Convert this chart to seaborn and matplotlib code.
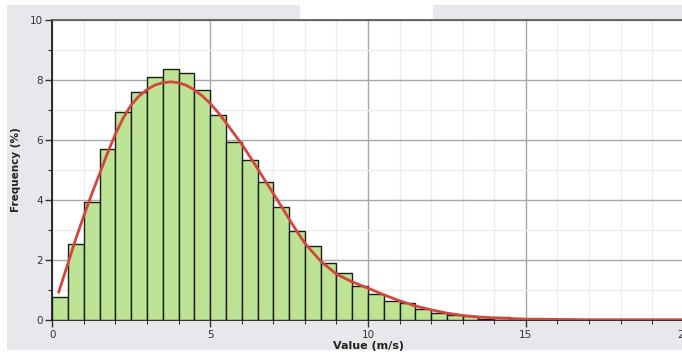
import numpy as np
import pandas as pd
import matplotlib
matplotlib.use("Agg")
import matplotlib.pyplot as plt
import seaborn as sns
from matplotlib.ticker import MultipleLocator

# ---- data ----
bin_edges = [0.0, 0.5, 1.0, 1.5, 2.0, 2.5, 3.0, 3.5, 4.0, 4.5, 5.0, 5.5, 6.0, 6.5, 7.0,
             7.5, 8.0, 8.5, 9.0, 9.5, 10.0, 10.5, 11.0, 11.5, 12.0, 12.5, 13.0, 13.5,
             14.0, 14.5]
bin_centers = [0.25, 0.75, 1.25, 1.75, 2.25, 2.75, 3.25, 3.75, 4.25, 4.75, 5.25, 5.75,
               6.25, 6.75, 7.25, 7.75, 8.25, 8.75, 9.25, 9.75, 10.25, 10.75, 11.25,
               11.75, 12.25, 12.75, 13.25, 13.75, 14.25]
freq_pct = [0.77, 2.52, 3.92, 5.70, 6.92, 7.60, 8.11, 8.38, 8.25, 7.66, 6.82, 5.94,
            5.35, 4.59, 3.77, 2.98, 2.47, 1.89, 1.56, 1.14, 0.87, 0.63, 0.56, 0.36,
            0.22, 0.18, 0.14, 0.04, 0.09]

fit_x = [0.2, 0.5, 0.75, 1.0, 1.25, 1.5, 1.75, 2.0, 2.25, 2.5, 2.75, 3.0, 3.25, 3.5,
         3.75, 4.0, 4.25, 4.5, 4.75, 5.0, 5.25, 5.5, 5.75, 6.0, 6.25, 6.5, 6.75, 7.0,
         7.25, 7.5, 7.75, 8.0, 8.5, 9.0, 9.5, 10.0, 10.5, 11.0, 11.5, 12.0, 12.5, 13.0,
         13.5, 14.0, 15.0, 16.0, 17.0, 18.0, 19.0, 20.0]
fit_y = [0.92, 1.90, 2.72, 3.48, 4.20, 4.88, 5.57, 6.20, 6.74, 7.17, 7.47, 7.68, 7.83,
         7.91, 7.94, 7.91, 7.82, 7.67, 7.47, 7.22, 6.92, 6.58, 6.22, 5.86, 5.46, 5.05,
         4.63, 4.22, 3.80, 3.37, 2.95, 2.56, 1.96, 1.53, 1.27, 1.06, 0.84, 0.64, 0.47,
         0.34, 0.23, 0.15, 0.10, 0.07, 0.03, 0.02, 0.01, 0.01, 0.01, 0.01]

x_ticks = [0, 5, 10, 15, 20]
y_ticks = [0, 2, 4, 6, 8, 10]

hist_df = pd.DataFrame({"value": bin_centers, "freq": freq_pct})
fit_df = pd.DataFrame({"value": fit_x, "freq": fit_y})

sns.set_style("white")
plt.rcParams["font.family"] = ["DejaVu Sans"]

W, H = 682, 352
fig = plt.figure(figsize=(W / 100, H / 100), dpi=100)
fig.patch.set_facecolor("white")

# gray frame background
bg_color = "#e9e7ec"
fig.patches.append(matplotlib.patches.Rectangle((7 / W, 1 - 350 / H), (W - 7) / W, (350 - 5) / H,
                                                transform=fig.transFigure, facecolor=bg_color,
                                                edgecolor="none", zorder=-10))
fig.patches.append(matplotlib.patches.Rectangle((300 / W, 1 - 19 / H), 133 / W, 14 / H,
                                                transform=fig.transFigure, facecolor="white",
                                                edgecolor="none", zorder=-9))

x0, x1 = 52.3, 683.7
y0, y1 = 320, 20
ax = fig.add_axes([x0 / W, 1 - y0 / H, (x1 - x0) / W, (y0 - y1) / H])
ax.set_zorder(1)
ax.set_facecolor("white")

sns.histplot(data=hist_df, x="value", weights="freq", bins=bin_edges, stat="count",
             color="#bde394", alpha=1.0, edgecolor="#1c1c1c", linewidth=1.0, ax=ax, zorder=3)
sns.lineplot(data=fit_df, x="value", y="freq", color="#d4453c", linewidth=2.0, ax=ax,
             zorder=4)

ax.set_xlim(0, 20)
ax.set_ylim(0, 10)
ax.set_xticks(x_ticks)
ax.set_yticks(y_ticks)
ax.set_xticklabels([str(t) for t in x_ticks])
ax.set_yticklabels([str(t) for t in y_ticks])
ax.xaxis.set_minor_locator(MultipleLocator(1))
ax.yaxis.set_minor_locator(MultipleLocator(1))

ax.grid(which="major", color="#a8a8a8", linewidth=1.0, zorder=1)
ax.grid(which="minor", color="#ededed", linewidth=1.0, zorder=0.5)
ax.set_axisbelow(True)

ax.tick_params(axis="both", which="major", direction="out", length=5, width=1,
               color="#333333", labelsize=7.5, labelcolor="#333333", pad=2,
               bottom=True, left=True)
ax.tick_params(axis="both", which="minor", direction="out", length=3, width=0.8,
               color="#333333", bottom=True, left=True)

for s in ["left", "bottom"]:
    ax.spines[s].set_color("#111111")
    ax.spines[s].set_linewidth(1.2)
ax.spines["top"].set_color("#555555")
ax.spines["top"].set_linewidth(1.2)
ax.spines["right"].set_visible(False)

ax.set_xlabel("Value (m/s)", fontsize=8, fontweight="bold", color="#222222", labelpad=1)
ax.set_ylabel("Frequency (%)", fontsize=7.5, fontweight="bold", color="#222222", labelpad=6)

fig.savefig("out.png", dpi=100, facecolor=fig.get_facecolor())
